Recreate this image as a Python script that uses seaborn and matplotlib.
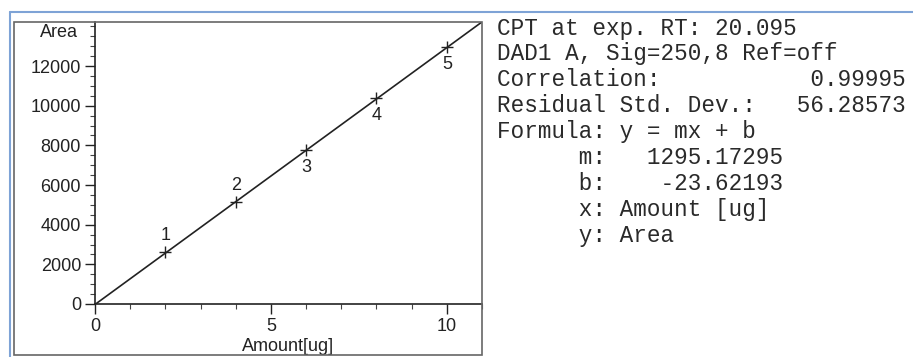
import matplotlib
matplotlib.use("Agg")
import matplotlib.pyplot as plt
from matplotlib.lines import Line2D
from matplotlib.patches import Rectangle
import seaborn as sns
import pandas as pd

# calibration points
amount = [2, 4, 6, 8, 10]
area = [2600, 5160, 7750, 10400, 12950]
level = ["1", "2", "3", "4", "5"]
label_above = [True, True, False, False, False]

# fit parameters as printed in the report
slope = 1295.17295
intercept = -23.62193
correlation = 0.99995
resid_sd = 56.28573

y_ticks = [0, 2000, 4000, 6000, 8000, 10000, 12000]
x_ticks = [0, 5, 10]

report = [
    "CPT at exp. RT: 20.095",
    "DAD1 A, Sig=250,8 Ref=off",
    "Correlation:           %.5f" % correlation,
    "Residual Std. Dev.:   %.5f" % resid_sd,
    "Formula: y = mx + b",
    "      m:   %.5f" % slope,
    "      b:    %.5f" % intercept,
    "      x: Amount [ug]",
    "      y: Area",
]

df = pd.DataFrame({"Amount": amount, "Area": area, "Level": level})

sns.set_style("ticks")
plt.rcParams["font.family"] = ["Liberation Sans", "DejaVu Sans"]

W, H = 913, 357
fig = plt.figure(figsize=(W / 100, H / 100), dpi=100)
fig.patch.set_facecolor("white")

# window decorations: blue frame line and grey panel box
fig.add_artist(Line2D([10 / W, 1], [1 - 12 / H, 1 - 12 / H], color="#7ea3d6", lw=1.5))
fig.add_artist(Line2D([10 / W, 10 / W], [0, 1 - 12 / H], color="#7ea3d6", lw=1.5))
fig.add_artist(Rectangle((14 / W, 1 - 355 / H), (482 - 14) / W, (355 - 22) / H,
                         fill=False, ec="#666666", lw=1.2))

ax = fig.add_axes([95 / W, 1 - 304 / H, (482 - 95) / W, (304 - 22) / H])
ax.set_xlim(0, 11)
ax.set_ylim(0, 14220)

ax.axline((0, intercept), slope=slope, color="#222222", lw=1.2)
sns.scatterplot(data=df, x="Amount", y="Area", marker="+", s=80,
                color="#222222", linewidth=1.0, ax=ax, legend=False)

for xv, yv, lab, up in zip(amount, area, level, label_above):
    ax.annotate(lab, (xv, yv), xytext=(0, 12 if up else -12.5), textcoords="offset points",
                ha="center", va="center", fontsize=13, color="#222222")

ax.set_xticks(x_ticks)
ax.set_yticks(y_ticks)
ax.set_xticks(range(0, 12), minor=True)
ax.set_yticks(range(0, 14001, 500), minor=True)
ax.tick_params(axis="both", which="major", direction="out", length=7, width=1,
               color="#222222", labelsize=13, labelcolor="#222222", pad=3)
ax.tick_params(axis="both", which="minor", direction="out", length=3.5, width=0.8,
               color="#444444")

for side in ["top", "right"]:
    ax.spines[side].set_visible(False)
for side in ["left", "bottom"]:
    ax.spines[side].set_color("#222222")
    ax.spines[side].set_linewidth(1.2)

ax.set_xlabel("Amount[ug]", fontsize=13, color="#222222", va="center")
ax.xaxis.set_label_coords(0.5, -0.149)
ax.set_ylabel("Area", fontsize=13, color="#222222", rotation=0, ha="right", va="center")
ax.yaxis.set_label_coords(-0.045, 0.961)

# report text block on the right
for i, line in enumerate(report):
    fig.text(497 / W, 1 - (28 + i * 25.9) / H, line, family="Liberation Mono",
             fontsize=16.3, color="#2a2a2a", ha="left", va="center")

fig.savefig("out.png", dpi=100, facecolor="white")
